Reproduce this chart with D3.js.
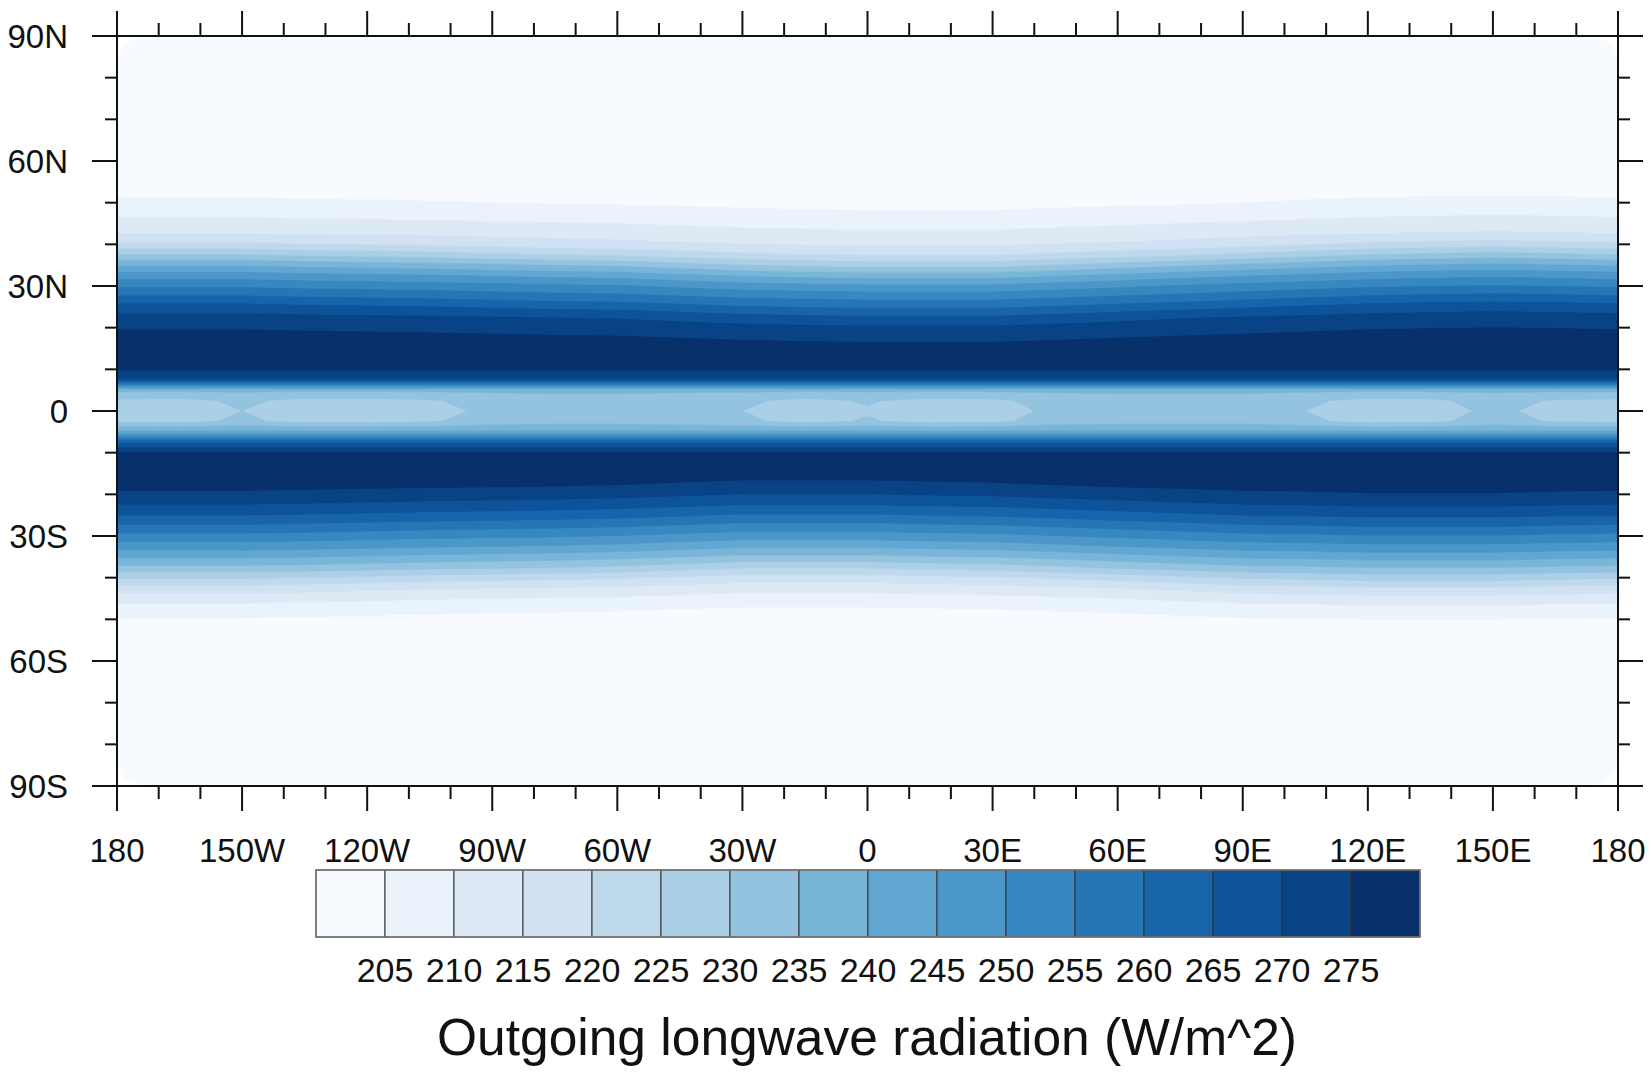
<!DOCTYPE html>
<html>
<head>
<meta charset="utf-8">
<script src="https://d3js.org/d3.v7.min.js"></script>
<style>
  body { margin: 0; background: #fff; }
  svg { display: block; font-family: "Liberation Sans", Arial, Helvetica, sans-serif; }
  .tick-label { font-size: 33px; fill: #111; }
  .bar-label { font-size: 34px; fill: #111; }
</style>
</head>
<body>
<script>
// ---- data ----
// contour levels (W/m^2)
var levels = [205, 210, 215, 220, 225, 230, 235, 240, 245, 250, 255, 260, 265, 270, 275];

// grid latitudes, 90N -> 90S every 2.5 deg
var gridLats = d3.range(90, -90.1, -2.5);
// zonal OLR profile at those latitudes
var oltProfile = [
  190, 190, 190.5, 191, 192, 193, 194, 195, 196, 197, 198, 199, 200, 201, 202, 203,
  204.5, 207, 210, 213, 216.5, 224, 234, 243, 250.5, 256.5, 263, 269.5, 273, 275.5,
  278, 278, 275.5, 269, 236, 233,
  232,
  233, 241, 264, 275.5, 278, 278, 276, 272.5, 268, 263, 257, 251, 245, 238, 231,
  222, 215, 210, 206, 203.5, 202.5, 202, 201, 200, 199, 198, 197, 196, 195, 194,
  193, 192, 191, 190.5, 190, 190
];

// grid longitudes, 180W -> 180E every 15 deg
var gridLons = d3.range(-180, 180.1, 15);
// poleward displacement of the northern / southern band (deg) at each longitude
var northShift = [1.5, 1.5, 1.5, 1.2, 1.0, 0.8, 0.5, 0.2, 0, -0.5, -1.0, -1.3, -1.5,
                  -1.5, -1.5, -1.0, -0.5, 0, 0.5, 1.0, 1.5, 1.8, 2.0, 1.8, 1.5];
var southShift = [1.0, 1.0, 1.0, 0.8, 0.5, 0.2, 0, -0.2, -0.5, -1.0, -1.5, -1.5, -1.5,
                  -1.2, -1.0, -0.5, 0, 0.5, 1.0, 1.2, 1.5, 1.5, 1.5, 1.2, 1.0];
// equatorial anomaly (W/m^2), the lighter patches on the equator
var eqAnom = [-4, -4.5, -2, -4.5, -4.5, -3.5, -1, 0, 0, -1, -2, -4.5, -2.5,
              -4.5, -4, -1, 0, 0, 0, -2, -4.5, -4, -1, -3.5, -4];

// axis ticks
var lonTicks = [-180, -150, -120, -90, -60, -30, 0, 30, 60, 90, 120, 150, 180];
var lonLabels = ["180", "150W", "120W", "90W", "60W", "30W", "0", "30E", "60E", "90E", "120E", "150E", "180"];
var latTicks = [90, 60, 30, 0, -30, -60, -90];
var latLabels = ["90N", "60N", "30N", "0", "30S", "60S", "90S"];
var titleText = "Outgoing longwave radiation (W/m^2)";

// ---- layout ----
var W = 1651, H = 1074;
var x = d3.scaleLinear().domain([-180, 180]).range([117, 1618]);
var y = d3.scaleLinear().domain([90, -90]).range([36, 786]);
var colors = d3.quantize(d3.interpolateBlues, levels.length + 1);

var svg = d3.select("body").append("svg")
  .attr("width", W)
  .attr("height", H);

// build the grid
var nx = gridLons.length, ny = gridLats.length;
var profile = d3.scaleLinear().domain(gridLats).range(oltProfile);
var values = new Array(nx * ny);
for (var j = 0; j < ny; j++) {
  var lat = gridLats[j];
  for (var i = 0; i < nx; i++) {
    var v;
    if (lat >= 12.5) v = profile(lat - northShift[i]);
    else if (lat <= -12.5) v = profile(lat + southShift[i]);
    else v = oltProfile[j] + (Math.abs(lat) <= 2.5 ? eqAnom[i] : 0);
    values[j * nx + i] = v;
  }
}

var contours = d3.contours().size([nx, ny]).thresholds(levels)(values);

var gx = d3.scaleLinear().domain([0.5, nx - 0.5]).range([x(-180), x(180)]);
var gy = d3.scaleLinear().domain([0.5, ny - 0.5]).range([y(90), y(-90)]);
var path = d3.geoPath(d3.geoTransform({
  point: function(px, py) { this.stream.point(gx(px), gy(py)); }
}));

svg.append("defs").append("clipPath")
  .attr("id", "plotclip")
  .append("rect")
  .attr("x", x(-180)).attr("y", y(90))
  .attr("width", x(180) - x(-180)).attr("height", y(-90) - y(90))
  .attr("rx", 28).attr("ry", 28);

var field = svg.append("g").attr("clip-path", "url(#plotclip)");
field.append("rect")
  .attr("x", x(-180)).attr("y", y(90))
  .attr("width", x(180) - x(-180)).attr("height", y(-90) - y(90))
  .attr("fill", colors[0]);
field.selectAll("path")
  .data(contours)
  .enter().append("path")
  .attr("d", path)
  .attr("fill", function(d, k) { return colors[k + 1]; })
  .attr("stroke", function(d, k) { return colors[k + 1]; })
  .attr("stroke-width", 0.5);

// frame
svg.append("rect")
  .attr("x", x(-180)).attr("y", y(90))
  .attr("width", x(180) - x(-180)).attr("height", y(-90) - y(90))
  .attr("fill", "none").attr("stroke", "#111").attr("stroke-width", 2);

// ticks (outward on every side)
var axes = svg.append("g").attr("stroke", "#111").attr("stroke-width", 2);
var lonMinor = d3.range(-180, 181, 10).filter(function(d) { return d % 30 !== 0; });
var latMinor = d3.range(-90, 91, 10).filter(function(d) { return d % 30 !== 0; });

function vticks(list, len) {
  list.forEach(function(d) {
    axes.append("line").attr("x1", x(d)).attr("x2", x(d)).attr("y1", y(-90)).attr("y2", y(-90) + len);
    axes.append("line").attr("x1", x(d)).attr("x2", x(d)).attr("y1", y(90)).attr("y2", y(90) - len);
  });
}
function hticks(list, len) {
  list.forEach(function(d) {
    axes.append("line").attr("y1", y(d)).attr("y2", y(d)).attr("x1", x(-180)).attr("x2", x(-180) - len);
    axes.append("line").attr("y1", y(d)).attr("y2", y(d)).attr("x1", x(180)).attr("x2", x(180) + len);
  });
}
vticks(lonTicks, 25);
vticks(lonMinor, 13);
hticks(latTicks, 25);
hticks(latMinor, 12);

svg.selectAll(".lonlab")
  .data(lonTicks)
  .enter().append("text")
  .attr("class", "tick-label")
  .attr("x", function(d) { return x(d); })
  .attr("y", 862)
  .attr("text-anchor", "middle")
  .text(function(d, i) { return lonLabels[i]; });

svg.selectAll(".latlab")
  .data(latTicks)
  .enter().append("text")
  .attr("class", "tick-label")
  .attr("x", 68)
  .attr("y", function(d) { return y(d) + 12; })
  .attr("text-anchor", "end")
  .text(function(d, i) { return latLabels[i]; });

// colour bar
var cb = d3.scaleLinear().domain([0, colors.length]).range([316, 1420]);
var bar = svg.append("g");
bar.selectAll("rect")
  .data(colors)
  .enter().append("rect")
  .attr("x", function(d, i) { return cb(i); })
  .attr("y", 870)
  .attr("width", cb(1) - cb(0))
  .attr("height", 67)
  .attr("fill", function(d) { return d; })
  .attr("stroke", "#333")
  .attr("stroke-width", 1);
bar.append("rect")
  .attr("x", cb(0)).attr("y", 870)
  .attr("width", cb(colors.length) - cb(0)).attr("height", 67)
  .attr("fill", "none").attr("stroke", "#777").attr("stroke-width", 1.5);

bar.selectAll("text")
  .data(levels)
  .enter().append("text")
  .attr("class", "bar-label")
  .attr("x", function(d, i) { return cb(i + 1); })
  .attr("y", 982)
  .attr("text-anchor", "middle")
  .text(function(d) { return d; });

svg.append("text")
  .attr("x", 867)
  .attr("y", 1055)
  .attr("text-anchor", "middle")
  .style("font-size", "51.5px")
  .style("fill", "#111")
  .text(titleText);
</script>
</body>
</html>
